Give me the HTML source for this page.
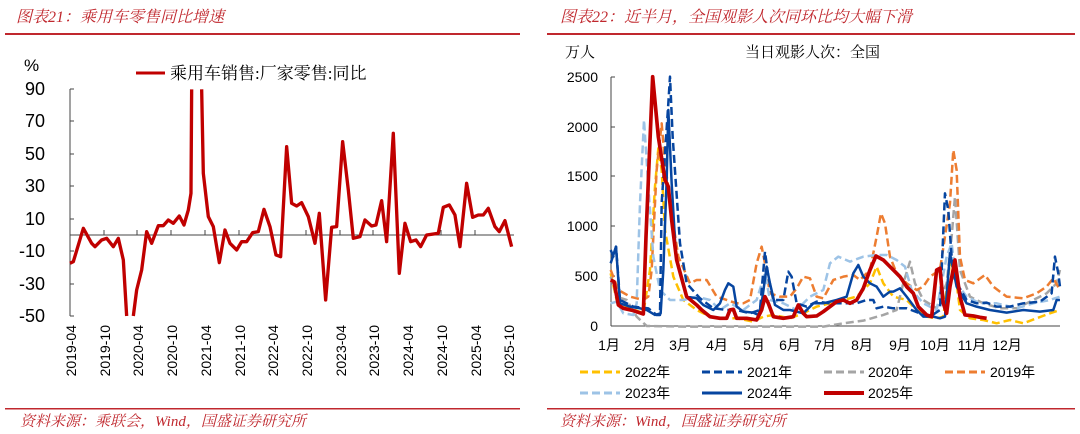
<!DOCTYPE html>
<html><head><meta charset="utf-8"><style>
html,body{margin:0;padding:0;background:#fff;}
svg{display:block;}
.t{font-family:"Liberation Sans","Noto Sans CJK SC",sans-serif;}
.s{font-family:"Liberation Serif","Noto Serif CJK SC",serif;}
</style></head><body>
<svg width="1080" height="434" viewBox="0 0 1080 434" xmlns="http://www.w3.org/2000/svg">
<text x="16" y="22" class="s" font-size="16" font-style="italic" fill="#c0282e">图表21：乘用车零售同比增速</text>
<text x="560" y="22" class="s" font-size="16" font-style="italic" fill="#c0282e">图表22：近半月，全国观影人次同环比均大幅下滑</text>
<rect x="5" y="33" width="515" height="2" fill="#c0282e"/>
<rect x="547" y="33" width="528" height="2" fill="#c0282e"/>
<rect x="5" y="408" width="515" height="1.5" fill="#c0282e"/>
<rect x="547" y="408" width="528" height="1.5" fill="#c0282e"/>
<text x="20" y="426" class="s" font-size="15" font-style="italic" fill="#c0282e">资料来源：乘联会，Wind，国盛证券研究所</text>
<text x="560" y="426" class="s" font-size="15" font-style="italic" fill="#c0282e">资料来源：Wind，国盛证券研究所</text>

<text x="24" y="71" class="t" font-size="17">%</text>
<line x1="136" y1="73" x2="165" y2="73" stroke="#c00000" stroke-width="3"/>
<text x="170" y="79" class="s" font-size="17">乘用车销售:厂家零售:同比</text>
<g class="t" font-size="18" text-anchor="end">
<text x="45" y="95">90</text><text x="45" y="127">70</text><text x="45" y="160">50</text><text x="45" y="192">30</text><text x="45" y="225">10</text><text x="45" y="257">-10</text><text x="45" y="290">-30</text><text x="45" y="322">-50</text>
</g>
<g stroke="#444" stroke-width="1">
<line x1="70" y1="89" x2="70" y2="316"/>
<line x1="70" y1="89" x2="74" y2="89"/><line x1="70" y1="121" x2="74" y2="121"/><line x1="70" y1="154" x2="74" y2="154"/><line x1="70" y1="186" x2="74" y2="186"/><line x1="70" y1="219" x2="74" y2="219"/><line x1="70" y1="251" x2="74" y2="251"/><line x1="70" y1="284" x2="74" y2="284"/><line x1="70" y1="316" x2="74" y2="316"/>
<line x1="70" y1="235" x2="514" y2="235"/>
<line x1="104" y1="230" x2="104" y2="235"/><line x1="137" y1="230" x2="137" y2="235"/><line x1="171" y1="230" x2="171" y2="235"/><line x1="205" y1="230" x2="205" y2="235"/><line x1="239" y1="230" x2="239" y2="235"/><line x1="272" y1="230" x2="272" y2="235"/><line x1="306" y1="230" x2="306" y2="235"/><line x1="340" y1="230" x2="340" y2="235"/><line x1="373" y1="230" x2="373" y2="235"/><line x1="407" y1="230" x2="407" y2="235"/><line x1="441" y1="230" x2="441" y2="235"/><line x1="475" y1="230" x2="475" y2="235"/><line x1="508" y1="230" x2="508" y2="235"/>
</g>
<g class="t" font-size="14" text-anchor="end">
<text transform="translate(76,325) rotate(-90)">2019-04</text>
<text transform="translate(110,325) rotate(-90)">2019-10</text>
<text transform="translate(143,325) rotate(-90)">2020-04</text>
<text transform="translate(177,325) rotate(-90)">2020-10</text>
<text transform="translate(211,325) rotate(-90)">2021-04</text>
<text transform="translate(245,325) rotate(-90)">2021-10</text>
<text transform="translate(278,325) rotate(-90)">2022-04</text>
<text transform="translate(312,325) rotate(-90)">2022-10</text>
<text transform="translate(346,325) rotate(-90)">2023-04</text>
<text transform="translate(379,325) rotate(-90)">2023-10</text>
<text transform="translate(413,325) rotate(-90)">2024-04</text>
<text transform="translate(447,325) rotate(-90)">2024-10</text>
<text transform="translate(481,325) rotate(-90)">2025-04</text>
<text transform="translate(514,325) rotate(-90)">2025-10</text>
</g>
<g transform="translate(60,80) scale(0.3333)" fill="none" stroke="#c00000" stroke-width="10" stroke-linejoin="round">
<polyline points="30,550 40,545 70,445 95,490 105,500 125,480 140,475 160,500 175,475 190,540 200,708"/>
<polyline points="220,708 230,630 245,570 260,455 275,490 295,437 310,437 325,420 340,430 358,408 372,435 385,390 393,340 395,28"/>
<polyline points="425,28 430,280 445,410 460,440 478,548 495,450 510,490 530,510 545,485 560,485 578,458 595,455 612,388 630,440 648,525 662,530 680,200 695,370 710,378 725,368 745,410 765,490 778,400 797,660 815,442 830,440 848,185 865,330 880,475 900,470 915,420 935,438 948,435 965,362 980,485 1000,160 1018,580 1035,430 1052,485 1068,480 1082,500 1100,465 1135,460 1150,382 1168,375 1185,405 1200,500 1220,310 1238,412 1255,405 1270,405 1285,385 1305,440 1318,455 1335,422 1355,500"/>
</g>

<text x="565" y="57" class="s" font-size="15">万人</text>
<text x="745" y="57" class="s" font-size="15">当日观影人次：全国</text>
<g class="t" font-size="14" text-anchor="end">
<text x="598" y="82">2500</text><text x="598" y="132">2000</text><text x="598" y="181">1500</text><text x="598" y="231">1000</text><text x="598" y="281">500</text><text x="598" y="331">0</text>
</g>
<g stroke="#444" stroke-width="1">
<line x1="611" y1="77" x2="611" y2="326"/><line x1="611" y1="326" x2="1060" y2="326"/>
<line x1="611" y1="77" x2="615" y2="77"/><line x1="611" y1="127" x2="615" y2="127"/><line x1="611" y1="176" x2="615" y2="176"/><line x1="611" y1="226" x2="615" y2="226"/><line x1="611" y1="276" x2="615" y2="276"/>
</g>
<g class="t" font-size="14" text-anchor="middle">
<text x="609" y="350">1月</text><text x="645" y="350">2月</text><text x="680" y="350">3月</text><text x="717" y="350">4月</text><text x="754" y="350">5月</text><text x="790" y="350">6月</text><text x="825" y="350">7月</text><text x="862" y="350">8月</text><text x="900" y="350">9月</text><text x="935" y="350">10月</text><text x="972" y="350">11月</text><text x="1007" y="350">12月</text>
</g>
<g transform="translate(590,70) scale(0.3333)" fill="none" stroke-linejoin="round" stroke-width="7.5">
<polyline stroke="#ffc000" stroke-dasharray="24,12" points="62,610 80,690 110,710 160,730 180,600 195,350 205,235 215,300 225,480 250,620 280,690 320,720 360,740 400,745 440,745 490,755 520,740 550,735 600,745 640,730 680,710 720,700 760,690 800,680 840,640 860,590 880,640 910,680 950,690 980,720 1010,740 1040,745 1060,740 1080,580 1095,600 1110,720 1140,745 1180,750 1220,760 1260,750 1300,760 1340,745 1380,730 1410,720"/>
<polyline stroke="#a5a5a5" stroke-dasharray="24,12" points="62,620 80,680 110,690 140,740 170,768 300,770 500,770 700,770 760,760 820,752 880,735 920,720 940,640 960,575 975,640 1000,690 1040,715 1070,640 1085,500 1095,380 1110,600 1140,680 1180,700 1230,715 1280,715 1330,690 1370,670 1400,640 1410,600"/>
<polyline stroke="#ed7d31" stroke-dasharray="24,12" points="62,600 85,660 120,680 160,690 175,680 185,600 200,300 215,160 225,280 245,430 265,560 300,640 320,630 350,630 380,680 410,690 440,700 460,700 480,690 500,580 515,530 525,580 540,670 570,680 600,680 620,655 640,620 660,625 680,680 700,685 730,630 760,620 790,615 810,630 840,600 860,500 873,430 885,460 900,560 920,610 950,640 980,660 1000,650 1020,620 1050,600 1080,400 1090,240 1100,300 1110,560 1125,630 1150,640 1185,615 1210,650 1250,680 1300,685 1340,670 1370,650 1390,625 1410,660"/>
<polyline stroke="#9dc3e6" stroke-dasharray="24,12" points="62,700 80,695 100,730 130,735 140,700 150,400 162,150 175,350 190,560 210,660 240,690 280,690 320,680 360,690 390,720 420,700 460,720 500,690 525,610 540,690 580,700 620,720 660,680 700,660 720,580 745,560 780,575 820,560 860,555 890,555 920,570 945,590 965,660 1000,700 1040,720 1070,560 1085,520 1100,640 1130,680 1170,700 1220,700 1280,715 1330,700 1380,690 1410,680"/>
<polyline stroke="#0645a0" stroke-dasharray="24,12" points="62,540 70,560 78,530 90,690 130,710 175,715 200,735 210,735 215,400 235,100 240,20 248,200 270,520 290,640 330,685 370,715 410,720 440,720 480,730 510,720 525,545 535,620 550,690 580,690 595,605 605,620 620,700 650,710 680,695 720,700 760,700 800,700 830,690 850,690 860,715 880,710 910,715 950,715 990,730 1020,740 1050,720 1065,370 1075,420 1085,560 1095,630 1130,690 1160,700 1190,698 1220,710 1260,710 1300,700 1350,695 1385,670 1395,560 1405,610 1410,650"/>
<polyline stroke="#0645a0" points="62,580 78,530 90,700 120,710 150,715 170,720 195,735 212,730 220,600 230,330 235,120 245,340 258,560 290,680 320,685 340,705 370,720 390,700 405,660 415,640 430,650 440,710 460,725 490,728 505,735 515,700 530,590 540,640 555,705 580,720 600,720 620,725 640,730 670,700 700,700 740,690 770,680 790,610 805,585 820,620 840,640 860,650 880,680 900,665 910,665 930,655 950,680 980,720 1000,740 1030,740 1050,745 1065,740 1080,550 1090,600 1100,650 1130,700 1160,710 1200,720 1250,728 1300,720 1350,725 1390,720 1400,690 1410,690"/>
<polyline stroke="#c00000" stroke-width="11" points="62,630 72,635 85,705 100,715 130,722 160,732 168,500 188,20 205,200 225,330 235,350 245,450 260,570 290,680 320,705 335,720 360,740 390,745 410,745 420,720 430,718 440,745 470,745 500,750 515,720 525,680 535,700 550,740 580,745 610,740 625,705 640,730 650,740 680,738 700,725 720,710 740,695 760,690 780,700 800,690 820,655 840,600 858,558 880,570 910,600 930,620 950,650 970,670 985,710 1010,735 1025,740 1040,600 1050,595 1060,700 1070,730 1080,650 1095,570 1110,680 1125,735 1150,738 1170,742 1190,745"/>
</g>
<g stroke-width="3">
<line x1="580" y1="372" x2="620" y2="372" stroke="#ffc000" stroke-dasharray="8,4"/>
<line x1="702" y1="372" x2="742" y2="372" stroke="#0645a0" stroke-dasharray="8,4"/>
<line x1="824" y1="372" x2="864" y2="372" stroke="#a5a5a5" stroke-dasharray="8,4"/>
<line x1="945" y1="372" x2="985" y2="372" stroke="#ed7d31" stroke-dasharray="8,4"/>
<line x1="580" y1="393" x2="620" y2="393" stroke="#9dc3e6" stroke-dasharray="8,4"/>
<line x1="702" y1="393" x2="742" y2="393" stroke="#0645a0"/>
<line x1="824" y1="393" x2="864" y2="393" stroke="#c00000" stroke-width="4"/>
</g>
<g class="t" font-size="14">
<text x="625" y="377">2022年</text><text x="747" y="377">2021年</text><text x="868" y="377">2020年</text><text x="990" y="377">2019年</text>
<text x="625" y="398">2023年</text><text x="747" y="398">2024年</text><text x="868" y="398">2025年</text>
</g>
</svg>
</body></html>
